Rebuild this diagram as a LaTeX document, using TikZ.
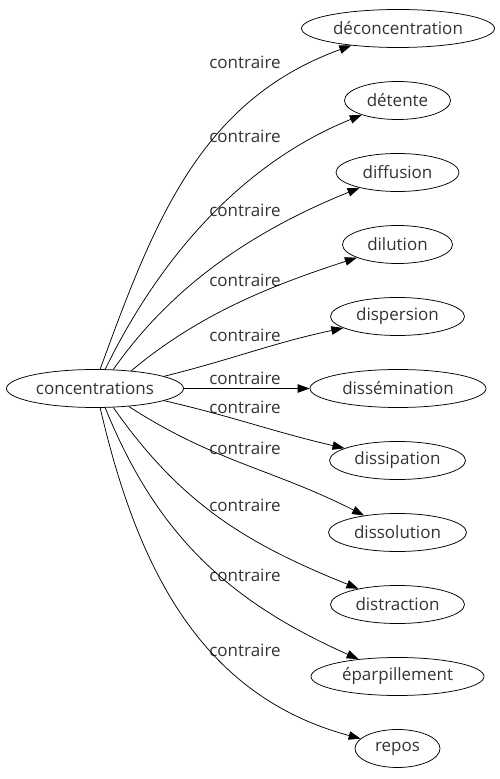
\documentclass[tikz,border=0pt]{standalone}
\usepackage{fontspec}
\setmainfont{Open Sans}
\usetikzlibrary{shapes.geometric,arrows.meta}
\begin{document}
\begin{tikzpicture}[x=1pt,y=1pt, line width=0.75pt,
    word/.style={draw, ellipse, minimum height=38pt, inner sep=0pt,
        font=\fontsize{17}{20}\selectfont, text=black!80},
    rel/.style={font=\fontsize{17}{20}\selectfont, text=black!80},
    link/.style={-{Triangle[length=12pt,width=8.5pt]}}]
                \useasboundingbox (0,0) rectangle (500,779);

                \node[word, minimum width=177pt] (A) at (95, 390.5) {concentrations};
                \node[word, minimum width=193pt] (B1) at (398, 750.5) {déconcentration};
                \node[word, minimum width=106pt] (B2) at (397.5, 678.5) {détente};
                \node[word, minimum width=123pt] (B3) at (397.5, 606.5) {diffusion};
                \node[word, minimum width=110pt] (B4) at (397.5, 534.5) {dilution};
                \node[word, minimum width=134pt] (B5) at (397.5, 462.5) {dispersion};
                \node[word, minimum width=176pt] (B6) at (398, 390.5) {dissémination};
                \node[word, minimum width=136pt] (B7) at (397.5, 318.5) {dissipation};
                \node[word, minimum width=138pt] (B8) at (397.5, 246.5) {dissolution};
                \node[word, minimum width=134pt] (B9) at (397.5, 174.5) {distraction};
                \node[word, minimum width=173pt] (B10) at (397.5, 102.5) {éparpillement};
                \node[word, minimum width=85pt] (B11) at (397.5, 30.5) {repos};

                \node[rel] (L1) at (245, 717) {contraire};
                \node[rel] (L2) at (245, 643) {contraire};
                \node[rel] (L3) at (245, 569) {contraire};
                \node[rel] (L4) at (245, 499) {contraire};
                \node[rel] (L5) at (245, 444) {contraire};
                \node[rel] (L6) at (245, 401) {contraire};
                \node[rel] (L7) at (245, 372) {contraire};
                \node[rel] (L8) at (245, 331) {contraire};
                \node[rel] (L9) at (245, 274) {contraire};
                \node[rel] (L10) at (245, 204) {contraire};
                \node[rel] (L11) at (245, 129) {contraire};

                \draw[link] (A.75) to[out=70, in=200] (B1);
                \draw[link] (A.62) to[out=64, in=202, looseness=0.9] (B2);
                \draw[link] (A.46) to[out=55, in=202, looseness=0.9] (B3);
                \draw[link] (A.26) to[out=40, in=198, looseness=0.9] (B4);
                \draw[link] (A.10) to[out=14, in=192] (B5);
                \draw[link] (A) to (B6);
                \draw[link] (A.-10) to[out=-13, in=167] (B7);
                \draw[link] (A.-28) to[out=-33, in=153] (B8);
                \draw[link] (A.-46) to[out=-55, in=158] (B9);
                \draw[link] (A.-62) to[out=-68, in=156] (B10);
                \draw[link] (A.-75) to[out=-77, in=165] (B11);
            \end{tikzpicture}
\end{document}
